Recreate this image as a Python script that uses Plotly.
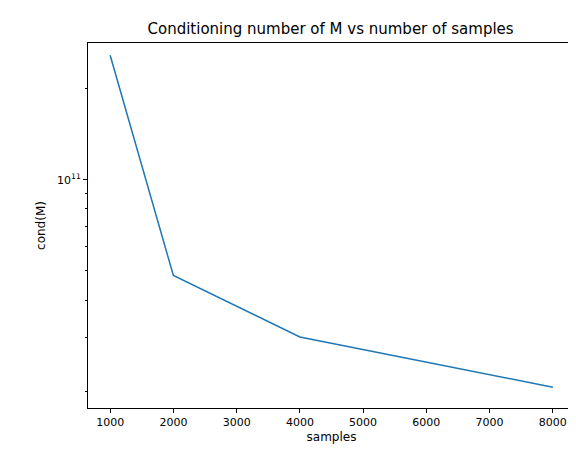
import plotly.graph_objects as go

samples = [1000, 2000, 4000, 8000]
cond_m = [2.58e11, 4.82e10, 3.02e10, 2.06e10]

minor_vals = [2e10, 3e10, 4e10, 5e10, 6e10, 7e10, 8e10, 9e10, 2e11]

fig = go.Figure()
fig.add_trace(go.Scatter(x=samples, y=cond_m, mode="lines",
                         line=dict(color="#1f77b4", width=1.5)))

axis_common = dict(showline=True, linecolor="black", linewidth=1, mirror=True,
                   showgrid=False, zeroline=False, ticks="outside", ticklen=4,
                   tickcolor="black", tickfont=dict(size=11, color="black"))

fig.update_xaxes(title=dict(text="samples", font=dict(size=12, color="black"), standoff=4),
                 range=[650, 8350], tickvals=list(range(1000, 9000, 1000)), **axis_common)
fig.update_yaxes(type="log", title=dict(text="cond(M)", font=dict(size=12, color="black"), standoff=8),
                 range=[10.245, 11.452], tickvals=[1e11], ticktext=["10<sup>11</sup>"],
                 minor=dict(tickvals=minor_vals, ticks="outside", ticklen=2, tickcolor="black"),
                 automargin=False, **axis_common)

fig.update_layout(
    width=576, height=455,
    title=dict(text="Conditioning number of M vs number of samples", x=0.56, y=0.965,
               xanchor="center", font=dict(size=15, color="black")),
    font=dict(family="DejaVu Sans"),
    plot_bgcolor="white", paper_bgcolor="white",
    showlegend=False,
    margin=dict(l=80, r=9, t=35, b=55, autoexpand=False),
)

fig.write_html("out.html")
